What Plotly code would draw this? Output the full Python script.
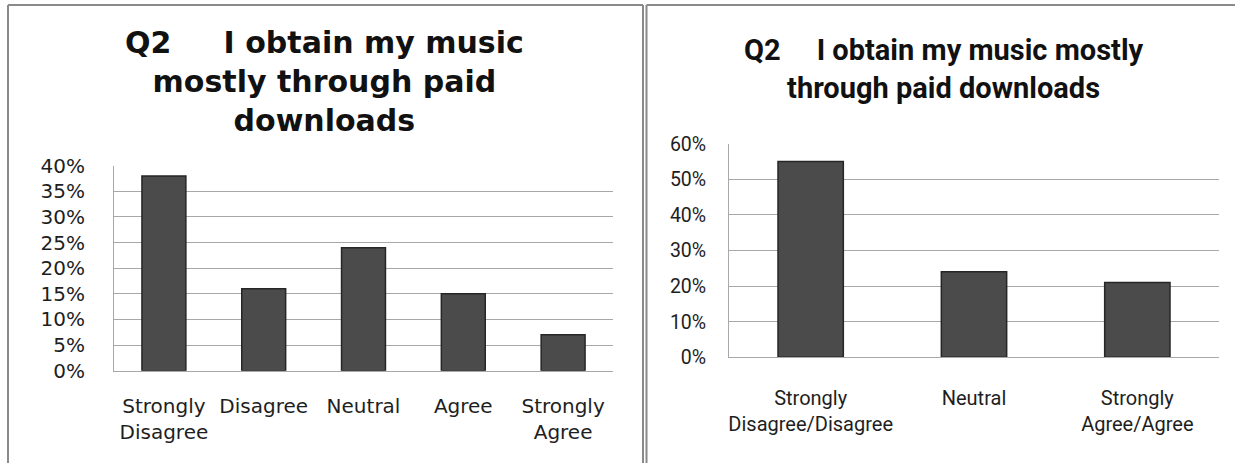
import plotly.graph_objects as go

# Survey question Q2, five-point scale
five_point_labels = ["Strongly<br>Disagree", "Disagree", "Neutral", "Agree", "Strongly<br>Agree"]
five_point_share = [0.38, 0.16, 0.24, 0.15, 0.07]

# Same question, collapsed to three groups
three_group_labels = ["Strongly<br>Disagree/Disagree", "Neutral", "Strongly<br>Agree/Agree"]
three_group_share = [0.55, 0.24, 0.21]

left_title = "Q2\u00a0\u00a0\u00a0\u00a0 I obtain my music<br>mostly through paid<br>downloads"
right_title = "Q2\u00a0\u00a0\u00a0\u00a0 I obtain my music mostly<br>through paid downloads"

W, H = 1235, 463


def px_x(v):
    return v / W


def px_y(v):
    return 1 - v / H


WIDE = "DejaVu Sans, Verdana, sans-serif"
NARROW = "Liberation Sans Narrow, Arial Narrow, Roboto, sans-serif"
BAR_FILL = "#4b4b4b"
BAR_EDGE = "#262626"
GRID = "#a8a8a8"
INK = "#1e1e1e"

fig = go.Figure()

fig.add_trace(go.Bar(
    x=five_point_labels, y=five_point_share, width=0.44,
    marker=dict(color=BAR_FILL, line=dict(color=BAR_EDGE, width=1.5)),
    xaxis="x", yaxis="y", hoverinfo="skip", showlegend=False,
))
fig.add_trace(go.Bar(
    x=three_group_labels, y=three_group_share, width=0.40,
    marker=dict(color=BAR_FILL, line=dict(color=BAR_EDGE, width=1.5)),
    xaxis="x2", yaxis="y2", hoverinfo="skip", showlegend=False,
))

axis_common = dict(fixedrange=True, automargin=False)

fig.update_layout(
    width=W, height=H,
    margin=dict(l=0, r=0, t=0, b=0, pad=0, autoexpand=False),
    paper_bgcolor="white", plot_bgcolor="white",
    xaxis=dict(
        domain=[px_x(114), px_x(613)], anchor="y", type="category",
        showgrid=False, showline=True, linecolor=GRID, linewidth=1,
        ticks="", tickfont=dict(family=WIDE, size=20, color=INK),
        ticklabelstandoff=17, **axis_common,
    ),
    yaxis=dict(
        domain=[px_y(370.7), px_y(165.7)], anchor="x",
        range=[0, 0.40], dtick=0.05, tickformat=".0%",
        showgrid=True, gridcolor=GRID, gridwidth=1, zeroline=False,
        showline=True, linecolor=GRID, linewidth=1,
        ticks="", tickfont=dict(family=WIDE, size=20, color=INK),
        ticklabelstandoff=24, **axis_common,
    ),
    xaxis2=dict(
        domain=[px_x(729), px_x(1219)], anchor="y2", type="category",
        showgrid=False, showline=True, linecolor=GRID, linewidth=1,
        ticks="", tickfont=dict(family=NARROW, size=20, color=INK),
        ticklabelstandoff=23, **axis_common,
    ),
    yaxis2=dict(
        domain=[px_y(357.3), px_y(143.7)], anchor="x2",
        range=[0, 0.60], dtick=0.10, tickformat=".0%",
        showgrid=True, gridcolor=GRID, gridwidth=1, zeroline=False,
        showline=True, linecolor=GRID, linewidth=1,
        ticks="", tickfont=dict(family=NARROW, size=19.5, color=INK),
        ticklabelstandoff=18, **axis_common,
    ),
    annotations=[
        dict(text="<b>" + left_title + "</b>", x=px_x(324), y=px_y(81.5),
             xref="paper", yref="paper", xanchor="center", yanchor="middle",
             showarrow=False, align="center",
             font=dict(family=WIDE, size=30, color="#111111")),
        dict(text="<b>" + right_title + "</b>", x=px_x(944), y=px_y(68.5),
             xref="paper", yref="paper", xanchor="center", yanchor="middle",
             showarrow=False, align="center",
             font=dict(family=NARROW, size=29, color="#111111")),
    ],
)

# Panel frames around the two charts
FRAME = "#8a8a8a"
frames = [
    (px_x(8), px_y(5), px_x(8), -0.05),          # left panel, left edge
    (px_x(8), px_y(5), px_x(643), px_y(5)),      # left panel, top edge
    (px_x(643), px_y(5), px_x(643), -0.05),      # left panel, right edge
    (px_x(646.5), px_y(5), px_x(646.5), -0.05),  # right panel, left edge
    (px_x(646.5), px_y(5), 1.02, px_y(5)),       # right panel, top edge
]
for x0, y0, x1, y1 in frames:
    fig.add_shape(type="line", xref="paper", yref="paper",
                  x0=x0, y0=y0, x1=x1, y1=y1,
                  line=dict(color=FRAME, width=2))

fig.write_html("out.html", config={"displayModeBar": False})
